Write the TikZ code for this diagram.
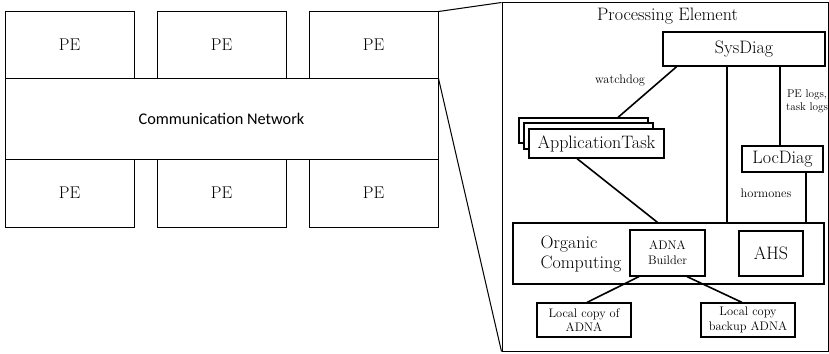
\documentclass[tikz,border=0pt]{standalone}
\usepackage{fontspec}
\newfontfamily\cfont{Carlito}
\begin{document}
\begin{tikzpicture}[x=1pt,y=-1pt,
  lbox/.style={draw, line width=1pt, inner sep=0pt},
  ibox/.style={draw, line width=1.2pt, inner sep=0pt, fill=white},
  conn/.style={line width=1.6pt},
  big/.style={font=\fontsize{18}{20}\selectfont, align=center},
  pel/.style={font=\fontsize{17}{20}\selectfont},
  small/.style={font=\fontsize{12.4}{14.5}\selectfont, align=center},
  tiny/.style={font=\fontsize{11.2}{13}\selectfont, align=center}]
\useasboundingbox (0,0) rectangle (829,353);
% left side
\node[lbox, minimum width=129pt, minimum height=66pt, pel] (pe1) at (69.5,45) {PE};
\node[lbox, minimum width=129pt, minimum height=66pt, pel] (pe2) at (221.5,45) {PE};
\node[lbox, minimum width=129pt, minimum height=66pt, pel] (pe3) at (373.5,45) {PE};
\node[lbox, minimum width=433pt, minimum height=81pt, font=\cfont\fontsize{16.3}{19}\selectfont] (comm) at (221.5,118.5) {Communication Network};
\node[lbox, minimum width=129pt, minimum height=68pt, pel] (pe4) at (69.5,193) {PE};
\node[lbox, minimum width=129pt, minimum height=68pt, pel] (pe5) at (221.5,193) {PE};
\node[lbox, minimum width=129pt, minimum height=68pt, pel] (pe6) at (373.5,193) {PE};
% processing element detail
\node[lbox, minimum width=326pt, minimum height=348pt] (proc) at (665,177) {};
\draw[line width=1pt] (pe3.north east) -- (proc.north west);
\draw[line width=1pt] (pe3.south east) -- (proc.south west);
\node[big] (title) at (667.5,16) {Processing Element};
\node[ibox, big, minimum width=162pt, minimum height=34pt] (sys) at (744,49) {SysDiag};
\node[ibox, minimum width=129pt, minimum height=25pt] (back) at (583.5,130.5) {};
\node[ibox, minimum width=129pt, minimum height=26pt] (mid) at (588.5,136) {};
\node[ibox, big, minimum width=135pt, minimum height=29pt] (app) at (596.5,143.5) {ApplicationTask};
\node[ibox, big, minimum width=81pt, minimum height=26pt] (loc) at (782.5,159) {LocDiag};
\node[ibox, minimum width=311pt, minimum height=61pt] (oc) at (668.5,253.5) {};
\node[big, align=left] (octxt) at (581,254) {Organic\\Computing};
\node[ibox, small, minimum width=75pt, minimum height=46pt, font=\fontsize{12.4}{15}\selectfont] (adna) at (667.5,253) {ADNA\\Builder};
\node[ibox, big, minimum width=64pt, minimum height=45pt] (ahs) at (771,253.5) {AHS};
\node[ibox, small, minimum width=94pt, minimum height=34pt] (lc) at (584,320) {Local copy of\\ADNA};
\node[ibox, small, minimum width=94pt, minimum height=34pt] (bk) at (748,320) {Local copy\\backup ADNA};
% labels
\node[small] (wd) at (620,80) {watchdog};
\node[tiny] (logs) at (807,101.5) {PE logs,\\task logs};
\node[small] (hor) at (766,193) {hormones};
% connectors
\coordinate (s1) at ([xshift=-17pt]sys.south);
\coordinate (s2) at ([xshift=-2.5pt]loc.north);
\coordinate (l1) at ([xshift=23.5pt]loc.south);
\draw[conn] ([xshift=-67.3pt]sys.south) -- ([xshift=34.5pt]back.north);
\draw[conn] ([xshift=-19.5pt]app.south) -- ([xshift=-11pt]oc.north);
\draw[conn] (s1) -- (s1 |- oc.north);
\draw[conn] (s2 |- sys.south) -- (s2);
\draw[conn] (l1) -- (l1 |- oc.north);
\draw[conn] ([xshift=-28.5pt]adna.south) -- ([xshift=3pt]lc.north);
\draw[conn] ([xshift=19.5pt]adna.south) -- ([xshift=-6pt]bk.north);
\end{tikzpicture}
\end{document}
